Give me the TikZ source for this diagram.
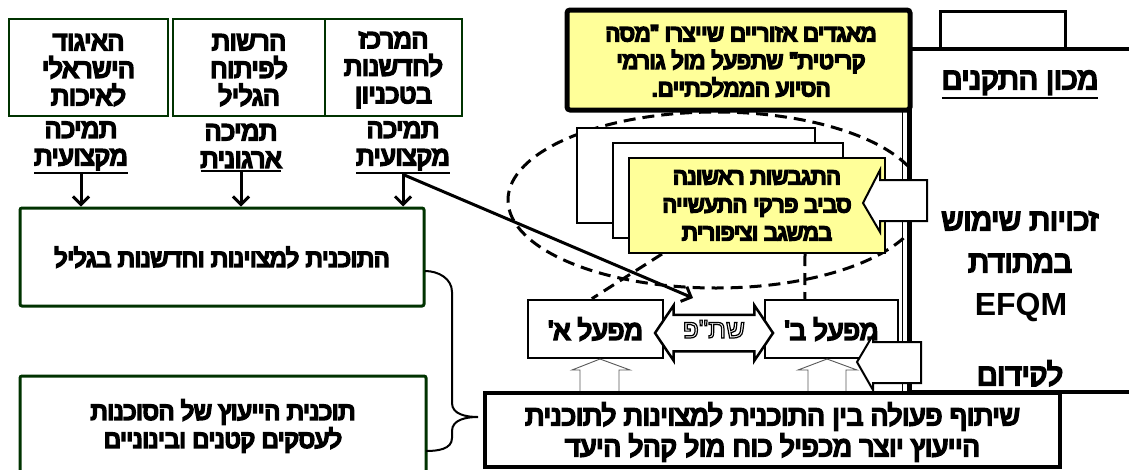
\documentclass[tikz,border=0pt]{standalone}
\usepackage{fontspec}
\usetikzlibrary{arrows.meta,shapes.arrows}
\newfontfamily\heb[Script=Hebrew,Ligatures=TeXOff]{Liberation Sans}
\newfontfamily\lat{Liberation Sans}
\TeXXeTstate=1
\newcommand{\hb}[1]{\special{pdf:literal direct 0 G 2 Tr 2 w}\beginR #1\endR\special{pdf:literal direct 0 Tr}}
\newcommand{\ulbox}[1]{\leavevmode\vtop{\hbox{#1}\kern2.5pt\hrule height1.8pt}}
\newcommand{\outl}[1]{\special{pdf:literal direct 0 G 1 Tr 1.2 w}\beginR #1\endR\special{pdf:literal direct 0 Tr}}
\definecolor{dgreen}{RGB}{0,51,0}
\definecolor{lyellow}{RGB}{255,255,153}
\begin{document}
\begin{tikzpicture}[x=1pt,y=-1pt,
  gbox/.style={draw=dgreen,line width=2pt,inner sep=0pt},
  htxt/.style={font=\heb\fontsize{26}{27.5}\selectfont,align=center,inner sep=0pt},
  bigtxt/.style={font=\heb\fontsize{30}{32}\selectfont,align=center,inner sep=0pt},
  bbox/.style={draw,line width=2.5pt,fill=white,inner sep=0pt},
  dsh/.style={dash pattern=on 12pt off 7pt,line width=3pt},
  arr/.style={line width=3pt,-{Straight Barb[length=8pt,width=16pt]}},
  hol/.style={draw=black!65,line width=0.9pt,fill=white},
]
\useasboundingbox (0,0) rectangle (1129,469);
\fill[white] (0,0) rectangle (1129,469);

% dashed ellipse
\draw[dsh] (716,200) ellipse [x radius=208pt, y radius=88pt];

% right region
\fill[white] (909,49) rectangle (1129,392);
\draw[line width=0.8pt] (902,110) -- (902,392);
\draw[line width=5pt] (909,46) -- (909,394);
\draw[line width=4pt] (907,49) -- (1129,49);
\draw[line width=4pt] (907,392) -- (1129,392);
\node[draw,line width=3pt,minimum width=125pt,minimum height=37pt] (tab) at (1002.5,29.5) {};
\node[bigtxt,anchor=base] (mk) at (1020,89) {\ulbox{\hb{מכון התקנים}}};
\node[bigtxt,anchor=base] (z1) at (1020,230) {\hb{זכויות שימוש}};
\node[bigtxt,anchor=base] (z2) at (1020,272) {\hb{במתודת}};
\node[font=\lat\bfseries\fontsize{32}{34}\selectfont,inner sep=0pt,anchor=base] (z3) at (1021,315) {EFQM};
\begin{scope}
\clip (909,300) rectangle (1129,386);
\node[bigtxt,anchor=base] (z4) at (1020,385) {\hb{לקידום}};
\end{scope}

% yellow top box
\node[draw,line width=5pt,fill=lyellow,rounded corners=3pt,minimum width=343pt,minimum height=100pt] (ytop) at (738.5,60) {};
\node[htxt,font=\heb\fontsize{22.8}{27.5}\selectfont] (ytopt) at (741,61) {\hb{מאגדים אזוריים שייצרו "מסה}\\\hb{קריטית" שתפעל מול גורמי}\\\hb{הסיוע הממלכתיים.}};

% top boxes
\node[gbox,minimum width=159pt,minimum height=97pt] (b1) at (88.5,67.5) {};
\node[gbox,minimum width=152pt,minimum height=97pt] (b2) at (249,67.5) {};
\node[gbox,minimum width=137pt,minimum height=97pt] (b3) at (393.5,67.5) {};
\node[htxt] (b1t) at (88.5,70) {\hb{האיגוד}\\\hb{הישראלי}\\\hb{לאיכות}};
\node[htxt] (b2t) at (249,70) {\hb{הרשות}\\\hb{לפיתוח}\\\hb{הגליל}};
\node[htxt] (b3t) at (393.5,70) {\hb{המרכז}\\\hb{לחדשנות}\\\hb{בטכניון}};

\node[htxt] (u1) at (81,148) {\hb{תמיכה}\\\ulbox{\hb{מקצועית}}};
\node[htxt] (u2) at (241,148) {\hb{תמיכה}\\\ulbox{\hb{ארגונית}}};
\node[htxt] (u3) at (403,148) {\hb{תמיכה}\\\ulbox{\hb{מקצועית}}};

% middle and bottom-left boxes
\node[draw=dgreen,line width=3pt,rounded corners=2pt,minimum width=404pt,minimum height=98pt,htxt,font=\heb\fontsize{24.4}{28}\selectfont] (mid) at (222,257) {\hb{התוכנית למצוינות וחדשנות בגליל}};
\node[draw=dgreen,line width=3pt,rounded corners=2pt,minimum width=406pt,minimum height=130pt] (sb) at (223,441) {};
\node[htxt,font=\heb\fontsize{24.5}{28}\selectfont] (sbt) at (223,426) {\hb{תוכנית הייעוץ של הסוכנות}\\\hb{לעסקים קטנים ובינוניים}};

\draw[arr] (u1.south) -- (u1.south |- mid.north);
\draw[arr] (u2.south) -- (u2.south |- mid.north);
\draw[arr] (u3.south) -- (u3.south |- mid.north);

% page stack
\node[draw,line width=2pt,fill=white,minimum width=238pt,minimum height=95pt] (p1) at (696,175.5) {};
\node[draw,line width=2pt,fill=white,minimum width=230pt,minimum height=95pt] (p2) at (728,190.5) {};
\node[draw,line width=2pt,fill=lyellow,minimum width=256pt,minimum height=95pt,htxt,font=\heb\fontsize{22.5}{28}\selectfont] (p3) at (757,205.5) {\hb{התגבשות ראשונה}\\\hb{סביב פרקי התעשייה}\\\hb{במשגב וציפורית}};

% factories
\node[bbox,htxt,font=\heb\fontsize{27}{30}\selectfont,minimum width=135pt,minimum height=58pt] (fA) at (595.5,329) {\hb{מפעל א'}};
\node[bbox,htxt,font=\heb\fontsize{27}{30}\selectfont,minimum width=133pt,minimum height=58pt] (fB) at (831.5,329) {\hb{מפעל ב'}};
\draw[dsh] ([xshift=34pt]p3.south west) -- ([xshift=65pt]fA.north west);
\draw[dsh] ([xshift=177pt]p3.south west) -- ([xshift=41pt]fB.north west);

\node[double arrow,draw,line width=2.5pt,fill=white,minimum height=118pt,minimum width=53pt,
  double arrow head extend=9.5pt,double arrow tip angle=112,inner xsep=2pt,inner ysep=8pt,
  text height=14pt,text depth=4pt,
  font=\heb\fontsize{26}{28}\selectfont] (dbl) at (714,333) {\outl{שת"פ}};

% hollow arrows
\draw[hol] (580,392) -- (580,370) -- (572,370) -- (600,359) -- (630,370) -- (619,370) -- (619,392);
\draw[hol] (808,392) -- (808,370) -- (798,370) -- (827,359) -- (857,370) -- (846,370) -- (846,392);

% bottom box
\node[draw,line width=4pt,fill=white,minimum width=575pt,minimum height=74pt] (bot) at (772.5,429.5) {};
\node[htxt,font=\heb\fontsize{27.5}{31}\selectfont] (bott) at (772.5,432) {\hb{שיתוף פעולה בין התוכנית למצוינות לתוכנית}\\\hb{הייעוץ יוצר מכפיל כוח מול קהל היעד}};

% brace
\draw[line width=2pt] (425,271) to[out=0,in=90] (452,292) -- (452,403) to[out=270,in=180] (478,417)
  to[out=180,in=90] (452,431) -- (452,438) to[out=270,in=0] (426,451);

% long arrow
\coordinate (lt) at (693,298);
\draw[arr] (u3.south) -- (lt);

% callouts
\draw[line width=2pt,fill=white] (927,180) -- (880,180) -- (880,170) -- (863,203) -- (880,232) -- (880,221) -- (927,221) -- cycle;
\draw[line width=2pt,fill=white] (921,342) -- (873,342) -- (873,335) -- (857,362) -- (873,390) -- (873,383) -- (921,383) -- cycle;
\end{tikzpicture}
\end{document}
